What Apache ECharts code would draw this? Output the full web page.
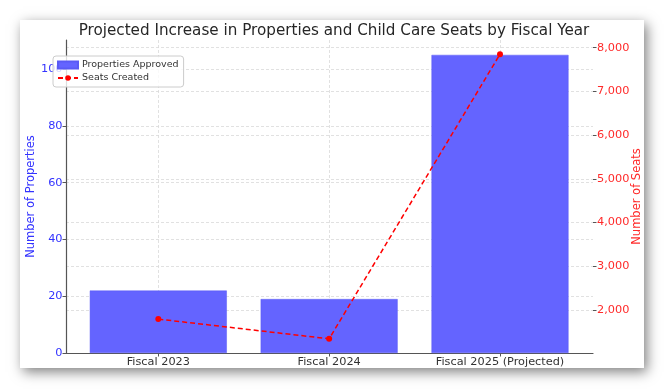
<!DOCTYPE html>
<html>
<head>
<meta charset="utf-8">
<script src="https://cdn.jsdelivr.net/npm/echarts@6/dist/echarts.min.js"></script>
<style>html,body{margin:0;padding:0;background:#fff;}#c{width:664px;height:389px;}</style>
</head>
<body>
<div id="c"></div>
<script>
const categories = ['Fiscal 2023', 'Fiscal 2024', 'Fiscal 2025 (Projected)'];
const propertiesApproved = [22, 19, 105];
const seatsCreated = [1790, 1340, 7850];
const leftTicks = [0, 20, 40, 60, 80, 100];
const rightTicks = [2000, 3000, 4000, 5000, 6000, 7000, 8000];

const FONT = 'DejaVu Sans';
const chart = echarts.init(document.getElementById('c'), null, {renderer: 'canvas'});

const leftMin = 0, leftMax = 110.25;
const rightMin = 1015, rightMax = 8175;
const gridLine = {show: true, showMinLine: false, showMaxLine: false, lineStyle: {color: '#d9d9d9', type: [3, 2], width: 0.8}};

chart.setOption({
  animation: false,
  textStyle: {fontFamily: FONT},
  graphic: [{
    type: 'rect', z: -100,
    shape: {x: 20, y: 20, width: 624, height: 348},
    style: {fill: '#fff', shadowBlur: 12, shadowColor: 'rgba(0,0,0,0.5)', shadowOffsetX: 3, shadowOffsetY: 4}
  }],
  title: {
    text: 'Projected Increase in Properties and Child Care Seats by Fiscal Year',
    left: 329, top: 19, textAlign: 'center',
    textStyle: {fontFamily: FONT, fontSize: 15.2, fontWeight: 'normal', color: '#262626'}
  },
  legend: {
    orient: 'vertical', left: 53, top: 56,
    data: [{name: 'Properties Approved', icon: 'rect'}, {name: 'Seats Created'}],
    itemWidth: 20, itemHeight: 7, itemGap: 3,
    padding: [4, 5, 4, 4],
    backgroundColor: 'rgba(255,255,255,0.8)', borderColor: '#cccccc', borderWidth: 1, borderRadius: 3,
    textStyle: {fontFamily: FONT, fontSize: 9.5, color: '#333', padding: [0, 0, 0, -1]},
    z: 10
  },
  grid: [
    {left: 66, right: 71, top: 40, bottom: 36},
    {left: 158.3, right: 164, top: 40, bottom: 36}
  ],
  xAxis: [
    {type: 'value', gridIndex: 0, min: 0, max: 1, axisLine: {show: true, lineStyle: {color: '#555', width: 1.2}},
     axisTick: {show: false}, axisLabel: {show: false}, splitLine: {show: false}},
    {type: 'value', gridIndex: 1, min: 0, max: 2, interval: 1,
     axisLine: {show: false},
     axisTick: {show: true, length: 3.5, lineStyle: {color: '#555'}},
     axisLabel: {fontFamily: FONT, fontSize: 11.3, color: '#333', margin: 4, formatter: v => categories[v] || ''},
     splitLine: {show: true, lineStyle: {color: '#d9d9d9', type: [3, 2], width: 0.8}}}
  ],
  yAxis: [
    {type: 'value', gridIndex: 0, position: 'left', min: leftMin, max: leftMax, interval: 20,
     name: 'Number of Properties', nameLocation: 'middle', nameGap: 29, nameMoveOverlap: false,
     nameTextStyle: {fontFamily: FONT, fontSize: 11.5, color: '#3333ff'},
     axisLine: {show: true, lineStyle: {color: '#555', width: 1.2}},
     axisTick: {show: true, length: 3.5, lineStyle: {color: '#555'}},
     axisLabel: {fontFamily: FONT, fontSize: 11.3, color: '#3333ff', margin: 3.5, showMaxLabel: false},
     splitLine: gridLine},
    {type: 'value', gridIndex: 0, position: 'right', min: rightMin, max: rightMax, splitNumber: 7,
     name: 'Number of Seats', nameLocation: 'middle', nameGap: 38, nameRotate: 90, nameMoveOverlap: false,
     nameTextStyle: {fontFamily: FONT, fontSize: 11.5, color: '#ff2a2a'},
     axisLine: {show: false},
     axisTick: {show: true, length: 3.5, lineStyle: {color: '#555'}},
     axisLabel: {fontFamily: FONT, fontSize: 11.3, color: '#ff2a2a', margin: 4, showMinLabel: false, showMaxLabel: false,
       formatter: v => Number(v).toLocaleString('en-US')},
     splitLine: gridLine},
    {type: 'value', gridIndex: 1, position: 'left', min: leftMin, max: leftMax, show: false},
    {type: 'value', gridIndex: 1, position: 'right', min: rightMin, max: rightMax, show: false}
  ],
  series: [
    {name: 'Properties Approved', type: 'bar', xAxisIndex: 1, yAxisIndex: 2, clip: false,
     barWidth: 137, itemStyle: {color: '#6464ff', borderColor: '#5a5af5', borderWidth: 0.5},
     data: propertiesApproved.map((v, i) => [i, v]), z: 2},
    {name: 'Seats Created', type: 'line', xAxisIndex: 1, yAxisIndex: 3, clip: false,
     symbol: 'circle', symbolSize: 6,
     lineStyle: {color: '#ff0000', type: [5, 3], width: 1.5},
     itemStyle: {color: '#ff0000'},
     data: seatsCreated.map((v, i) => [i, v]), z: 3}
  ]
});
</script>
</body>
</html>
